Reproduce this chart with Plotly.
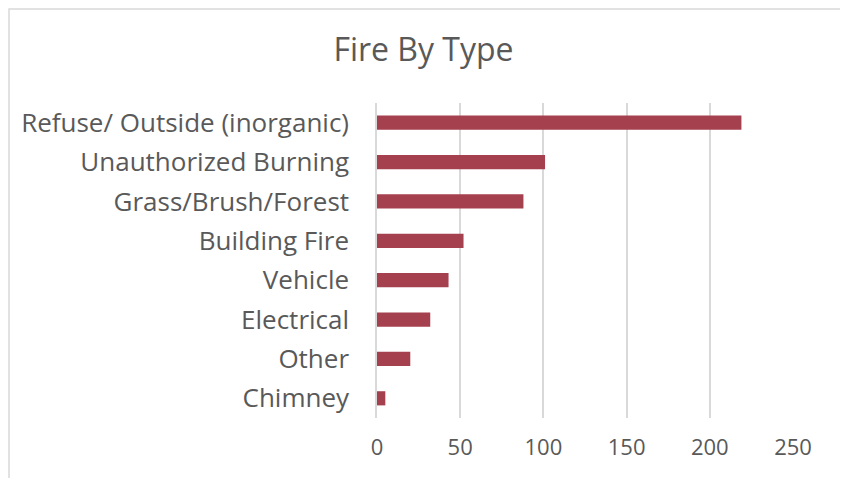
import plotly.graph_objects as go

categories = [
    "Refuse/ Outside (inorganic)",
    "Unauthorized Burning",
    "Grass/Brush/Forest",
    "Building Fire",
    "Vehicle",
    "Electrical",
    "Other",
    "Chimney",
]
counts = [219, 101, 88, 52, 43, 32, 20, 5]
x_ticks = [0, 50, 100, 150, 200, 250]

BAR_COLOR = "#A5404F"
TEXT_COLOR = "#595959"
GRID_COLOR = "#D9D9D9"
FONT = "Open Sans"

fig = go.Figure(go.Bar(
    x=counts,
    y=categories,
    orientation="h",
    marker=dict(color=BAR_COLOR, line=dict(width=0)),
    showlegend=False,
))

# outer chart frame (light grey, like the Excel chart area border)
fig.add_shape(
    type="rect", xref="paper", yref="paper",
    x0=-0.8846, x1=1.1166, y0=-0.25, y1=1.2984,
    line=dict(color="#D9D9D9", width=1.5),
    fillcolor="rgba(0,0,0,0)", layer="below",
)

fig.update_layout(
    width=840, height=470,
    margin=dict(l=369, r=55, t=95, b=60),
    paper_bgcolor="white",
    plot_bgcolor="white",
    bargap=0.64,
    font=dict(family=FONT, color=TEXT_COLOR),
    title=dict(
        text="Fire By Type",
        x=0.4946, xref="container", xanchor="center",
        y=0.911, yref="container", yanchor="middle",
        font=dict(family=FONT, size=32, color=TEXT_COLOR),
    ),
    xaxis=dict(
        range=[0, 250],
        tickvals=x_ticks,
        showgrid=True, gridcolor=GRID_COLOR, gridwidth=1.5,
        zeroline=False,
        showline=False,
        tickfont=dict(size=22, color=TEXT_COLOR),
        ticklabelstandoff=14,
        fixedrange=True,
    ),
    yaxis=dict(
        categoryorder="array",
        categoryarray=categories[::-1],
        showgrid=False,
        showline=True, linecolor=GRID_COLOR, linewidth=1.5,
        tickfont=dict(size=26, color=TEXT_COLOR),
        ticklabelstandoff=21,
        fixedrange=True,
    ),
)

fig.write_html("out.html")
